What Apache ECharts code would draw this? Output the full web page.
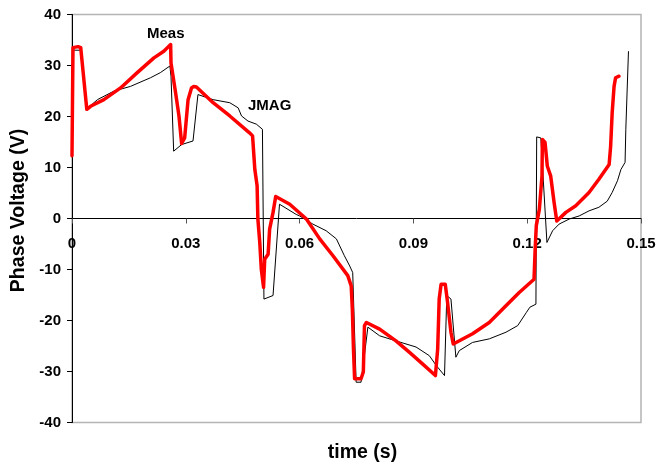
<!DOCTYPE html>
<html>
<head>
<meta charset="utf-8">
<script src="https://cdn.jsdelivr.net/npm/echarts@6/dist/echarts.min.js"></script>
<style>
html, body { margin: 0; padding: 0; background: #fff; }
#main { width: 658px; height: 467px; }
</style>
</head>
<body>
<div id="main"></div>
<script>
// 测量波形 Meas（红色粗线）
var measT = [0, 0.00026, 0.0005, 0.0016, 0.0023, 0.0039, 0.0049, 0.0084, 0.0128, 0.0172, 0.0216, 0.0242, 0.026,
	0.0261, 0.0273, 0.0282, 0.0289, 0.0297, 0.0306, 0.0315, 0.0321, 0.0328, 0.0372, 0.0416, 0.0468, 0.0476,
	0.0482, 0.0488, 0.049, 0.0495, 0.0499, 0.0505, 0.0508, 0.0517, 0.0521, 0.053, 0.0537, 0.0574, 0.0618,
	0.0653, 0.0688, 0.0727, 0.0736, 0.0739, 0.0742, 0.0745, 0.0762, 0.0768, 0.0771, 0.0776, 0.0811, 0.0854,
	0.0889, 0.0924, 0.0958, 0.0964, 0.0968, 0.0973, 0.0984, 0.099, 0.0999, 0.1005, 0.1056, 0.11, 0.1144,
	0.1179, 0.1218, 0.1221, 0.1224, 0.1232, 0.1239, 0.124, 0.1247, 0.1253, 0.1262, 0.1271, 0.1278, 0.1302,
	0.1328, 0.1363, 0.1389, 0.1416, 0.142, 0.1424, 0.1429, 0.1433, 0.1442];
var measV = [12.3, 33.5, 33.5, 33.7, 33.5, 21.4, 22.0, 23.3, 25.6, 28.6, 31.5, 32.8, 34.1,
	30.5, 24.7, 20.1, 14.7, 15.8, 23.3, 25.6, 25.9, 25.8, 22.7, 20.1, 16.8, 16.2,
	9.6, 6.4, -0.1, -4.7, -9.9, -13.5, -8.0, -7.0, -2.1, 1.2, 4.3, 2.8, -0.1,
	-4.0, -7.3, -11.2, -13.2, -17.7, -25.6, -31.4, -31.4, -30.1, -21.0, -20.4, -21.7, -24.0,
	-26.2, -28.5, -30.8, -25.6, -15.8, -12.9, -12.9, -16.4, -22.3, -24.6, -22.6, -20.4, -17.1,
	-14.5, -11.9, -6.0, -1.4, 1.8, 8.3, 15.5, 14.9, 10.3, 8.3, 3.1, -0.5, 1.2,
	2.5, 5.1, 7.7, 10.6, 14.2, 20.7, 25.9, 27.6, 27.9];

// 仿真波形 JMAG（黑色细线）
var jmagT = [0, 0.00026, 0.0005, 0.0023, 0.0039, 0.0053, 0.0067, 0.0111, 0.0154, 0.0207, 0.0233, 0.0258,
	0.0261, 0.0268, 0.0271, 0.0289, 0.0319, 0.0332, 0.0372, 0.0416, 0.0438, 0.0447, 0.0464, 0.0486, 0.0502,
	0.0506, 0.053, 0.0547, 0.0591, 0.06, 0.0635, 0.067, 0.0697, 0.0718, 0.0732, 0.074, 0.0749, 0.0762,
	0.078, 0.0811, 0.0854, 0.0907, 0.0942, 0.096, 0.0982, 0.0988, 0.0999, 0.1012, 0.1021, 0.1056, 0.11,
	0.1144, 0.1175, 0.1198, 0.1207, 0.1223, 0.1225, 0.1236, 0.1252, 0.1267, 0.1284, 0.1311, 0.1337, 0.1363,
	0.1389, 0.1411, 0.1424, 0.1438, 0.1447, 0.1458, 0.146, 0.1467];
var jmagV = [12.0, 33.0, 33.2, 33.0, 21.5, 22.4, 23.3, 25.0, 25.9, 27.6, 28.6, 29.9,
	27.9, 13.2, 12.9, 14.5, 15.2, 24.3, 23.3, 22.7, 21.7, 20.1, 19.1, 18.5, 17.5,
	-15.8, -15.1, 2.8, 0.8, 0.5, -1.1, -2.4, -4.0, -7.3, -9.3, -10.6, -32.1, -32.1,
	-21.3, -23.0, -24.0, -25.2, -26.9, -28.8, -30.8, -15.1, -15.8, -27.2, -25.9, -24.3, -23.6,
	-22.3, -21.0, -18.4, -17.4, -16.8, 16.0, 15.8, -4.7, -2.4, -1.1, -0.1, 0.5, 1.5,
	2.2, 3.4, 5.1, 7.4, 9.6, 11.0, 17.5, 32.8];

var xTicks = [0, 0.03, 0.06, 0.09, 0.12, 0.15];
var yTicks = [-40, -30, -20, -10, 0, 10, 20, 30, 40];

function zip(a, b) {
	var out = [];
	for(var i = 0; i < a.length; i++) {
		out.push([a[i], b[i]]);
	}
	return out;
}

var font = 'Liberation Sans';
var gridTop = 14.5, gridBottom = 44.5, chartH = 467;
// x轴放在 y=0 处：由底边向上偏移
var zeroOffset = -(chartH - gridTop - gridBottom) * (0 - yTicks[0]) / (yTicks[yTicks.length - 1] - yTicks[0]);

var chart = echarts.init(document.getElementById('main'), null, { renderer: 'canvas' });

chart.setOption({
	animation: false,
	backgroundColor: '#fff',
	grid: {
		left: 72,
		right: 17,
		top: gridTop,
		bottom: gridBottom,
		containLabel: false,
		outerBoundsMode: 'none',
		show: true,
		borderColor: '#b4b4b4',
		borderWidth: 1.5
	},
	xAxis: {
		type: 'value',
		position: 'bottom',
		offset: zeroOffset,
		min: xTicks[0],
		max: xTicks[xTicks.length - 1],
		interval: 0.03,
		name: 'time (s)',
		nameLocation: 'middle',
		nameGap: 224,
		nameTextStyle: { fontFamily: font, fontWeight: 'bold', fontSize: 19.5, color: '#000', padding: [0, 0, 0, 12] },
		axisLine: { onZero: false, lineStyle: { color: '#000', width: 1 } },
		axisTick: { show: true, inside: false, length: 5, lineStyle: { color: '#555' } },
		axisLabel: {
			margin: 18,
			fontFamily: font,
			fontWeight: 'bold',
			fontSize: 15,
			color: '#000',
			formatter: function(v) { return String(+v.toFixed(2)); }
		},
		splitLine: { show: false }
	},
	yAxis: {
		type: 'value',
		min: yTicks[0],
		max: yTicks[yTicks.length - 1],
		interval: 10,
		name: 'Phase Voltage (V)',
		nameLocation: 'middle',
		nameGap: 43,
		nameTextStyle: { fontFamily: font, fontWeight: 'bold', fontSize: 19.5, color: '#000', padding: [0, 0, 0, 16] },
		axisLine: { show: true, onZero: false, lineStyle: { color: '#000', width: 1 } },
		axisTick: { show: true, inside: false, length: 5, lineStyle: { color: '#000' } },
		axisLabel: { margin: 11, fontFamily: font, fontWeight: 'bold', fontSize: 15, color: '#000' },
		splitLine: { show: false }
	},
	graphic: [
		{ type: 'text', left: 147, top: 26, style: { text: 'Meas', fontFamily: font, fontWeight: 'bold', fontSize: 15, fill: '#000' } },
		{ type: 'text', left: 248, top: 98, style: { text: 'JMAG', fontFamily: font, fontWeight: 'bold', fontSize: 15, fill: '#000' } }
	],
	series: [
		{
			name: 'JMAG',
			type: 'line',
			data: zip(jmagT, jmagV),
			showSymbol: false,
			lineStyle: { color: '#000', width: 1 },
			z: 2
		},
		{
			name: 'Meas',
			type: 'line',
			data: zip(measT, measV),
			showSymbol: false,
			lineStyle: { color: '#ff0000', width: 3.5, join: 'round', cap: 'round' },
			z: 3
		}
	]
});
</script>
</body>
</html>
